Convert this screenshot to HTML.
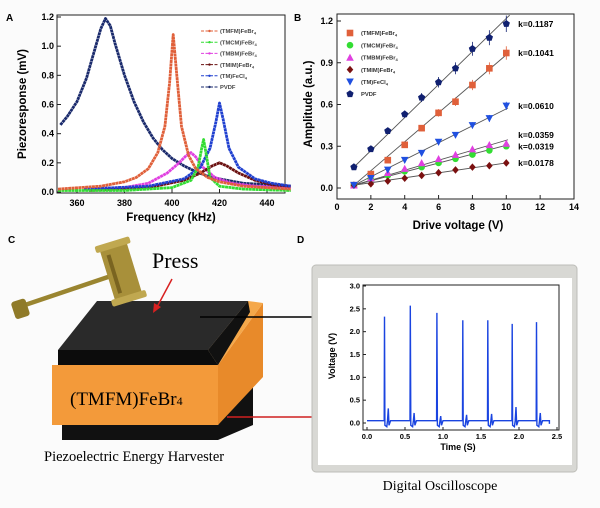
<!DOCTYPE html>
<html><head><meta charset="utf-8"><style>
html,body{margin:0;padding:0;background:#fff;}
svg{display:block;font-family:"Liberation Sans",sans-serif;}
.serif{font-family:"Liberation Serif",serif;}
</style></head><body>
<svg id="fig" width="600" height="508" viewBox="0 0 600 508" xmlns="http://www.w3.org/2000/svg">
<rect x="0" y="0" width="600" height="508" fill="#fbfbfb"/>
<text x="6" y="21" font-size="10" font-weight="bold">A</text>
<text x="294" y="21" font-size="10" font-weight="bold">B</text>
<text x="8" y="243" font-size="10" font-weight="bold">C</text>
<text x="297" y="243" font-size="10" font-weight="bold">D</text>

<g id="panelA"></g>
<g id="panelB"></g>

<!-- Panel C illustration -->
<g>
  <polygon points="62,425 218,425 253,377 253,425 218,440 62,440" fill="#111"/>
  <polygon points="218,365 263,303 263,377 218,425" fill="#e88a2a"/>
  <rect x="52" y="365" width="166" height="60" fill="#f39a3a"/>
  <polygon points="248,301 263,303 218,365 208,350" fill="#f5a84a"/>
  <polygon points="97,301 248,301 208,350 58,350" fill="#2a2a2a"/>
  <polygon points="58,350 208,350 218,365 58,365" fill="#0c0c0c"/>
  <polygon points="208,350 248,301 250,312 218,365" fill="#111"/>
  <line x1="200" y1="317" x2="313" y2="317" stroke="#000" stroke-width="1.5"/>
  <line x1="227" y1="417" x2="313" y2="417" stroke="#d02020" stroke-width="1.5"/>
  <text x="70" y="405" class="serif" font-size="19">(TMFM)FeBr<tspan font-size="12">4</tspan></text>
  <text x="152" y="268" class="serif" font-size="22">Press</text>
  <line x1="172" y1="279" x2="157" y2="307" stroke="#d82020" stroke-width="1.5"/>
  <polygon points="153,313 154,303 161,307" fill="#d82020"/>
  <text x="44" y="461" class="serif" font-size="14.5">Piezoelectric Energy Harvester</text>
  <g>
    <line x1="22" y1="306" x2="108" y2="277" stroke="#9a8530" stroke-width="4.5" stroke-linecap="round"/>
    <rect x="13" y="300" width="15" height="18" rx="3" fill="#8f7a28" transform="rotate(-18 20 309)"/>
    <g transform="rotate(-17 121 272)">
      <rect x="107" y="242" width="28" height="60" rx="3" fill="#a8903a"/>
      <rect x="103" y="240" width="36" height="7" rx="2" fill="#c0a850"/>
      <rect x="103" y="296" width="36" height="7" rx="2" fill="#c0a850"/>
      <rect x="112" y="252" width="4" height="40" fill="#7a6420"/>
    </g>
  </g>
</g>

<!-- Panel D frame -->
<g>
  <rect x="312" y="265" width="265" height="207" rx="4" fill="#d8d8d4" stroke="#bdbdb8"/>
  <rect x="318" y="278" width="254" height="187" fill="#fff"/>
  <text x="440" y="490" class="serif" font-size="14" text-anchor="middle">Digital Oscilloscope</text>
</g>
<g id="panelD"></g>
</svg>
<script>
// ---------- Panel A data ----------
const seriesNamesA = ["(TMFM)FeBr","(TMCM)FeBr","(TMBM)FeBr","(TMIM)FeBr","(TM)FeCl","PVDF"];
const colorsA = ["#e0603a","#33dd33","#e040e0","#6a1010","#2040d0","#1a2a6c"];
const xTicksA = [360,380,400,420,440];
const yTicksA = [0.0,0.2,0.4,0.6,0.8,1.0,1.2];
const tmfmX = [352,370,380,385,390,394,397,399,400.5,402,404,407,410,415,420,430,450];
const tmfmY = [0.02,0.04,0.07,0.1,0.16,0.27,0.45,0.75,1.08,0.8,0.45,0.25,0.16,0.1,0.07,0.04,0.02];
const tmcmX = [352,380,400,408,411,412.5,413.3,414.2,416,420,430,450];
const tmcmY = [0.01,0.01,0.03,0.08,0.17,0.3,0.36,0.28,0.1,0.04,0.02,0.01];
const tmbmX = [363,380,390,398,403,406,408,410,413,418,425,435,450];
const tmbmY = [0.02,0.03,0.06,0.13,0.2,0.25,0.27,0.24,0.17,0.1,0.06,0.04,0.03];
const tmimX = [365,390,405,412,417,420,423,428,435,442,450];
const tmimY = [0.01,0.03,0.08,0.13,0.18,0.2,0.18,0.13,0.08,0.05,0.04];
const fecl4X = [363,390,405,412,416,418.5,420,421.5,424,428,435,442,450];
const fecl4Y = [0.02,0.04,0.09,0.17,0.3,0.48,0.61,0.5,0.3,0.17,0.09,0.06,0.04];
const pvdfX = [353,356,360,364,367,370,372,374,376,380,384,388,392,396,400,405,410,415,420,430,440,450];
const pvdfY = [0.46,0.52,0.62,0.78,0.95,1.12,1.19,1.14,1.02,0.8,0.62,0.48,0.37,0.29,0.23,0.18,0.14,0.11,0.09,0.06,0.05,0.04];

// ---------- Panel B data ----------
const voltsB = [1,2,3,4,5,6,7,8,9,10];
const xTicksB = [0,2,4,6,8,10,12,14];
const yTicksB = [0.0,0.3,0.6,0.9,1.2];
const ampTMFM = [0.02,0.1,0.2,0.31,0.43,0.54,0.62,0.74,0.86,0.97];
const ampTMCM = [0.02,0.06,0.09,0.12,0.15,0.18,0.21,0.24,0.27,0.3];
const ampTMBM = [0.02,0.07,0.11,0.14,0.18,0.21,0.24,0.28,0.31,0.32];
const ampTMIM = [0.02,0.03,0.05,0.07,0.09,0.11,0.13,0.15,0.16,0.18];
const ampFeCl = [0.02,0.07,0.13,0.2,0.25,0.33,0.38,0.45,0.5,0.59];
const ampPVDF = [0.15,0.28,0.41,0.53,0.65,0.76,0.86,1.0,1.08,1.18];
const slopesB = [0.1187,0.1041,0.0610,0.0359,0.0319,0.0178];
const interceptsB = [0.15,0.02,0.02,0.02,0.02,0.02];
const slopeLabelsB = ["k=0.1187","k=0.1041","k=0.0610","k=0.0359","k=0.0319","k=0.0178"];
const slopeLabelYB = [1.18,0.97,0.59,0.38,0.30,0.18];

// ---------- Panel D data ----------
const xTicksD = [0.0,0.5,1.0,1.5,2.0,2.5];
const yTicksD = [0.0,0.5,1.0,1.5,2.0,2.5,3.0];
const pulseTimes = [0.23,0.57,0.92,1.26,1.59,1.91,2.23];
const pulseHeights = [2.33,2.57,2.41,2.25,2.25,2.17,2.21];
const ringHeights = [0.32,0.22,0.15,0.18,0.2,0.35,0.22];
const baseLevel = 0.05;

const NS="http://www.w3.org/2000/svg";
function mk(parent,tag,attrs){const e=document.createElementNS(NS,tag);for(const k in attrs)e.setAttribute(k,attrs[k]);parent.appendChild(e);return e;}
function txt(parent,x,y,s,size,anchor,extra){const t=mk(parent,"text",Object.assign({x:x,y:y,"font-size":size,"text-anchor":anchor||"middle","font-weight":"bold"},extra||{}));t.textContent=s;return t;}

// ===== Panel A =====
(function(){
  const g=document.getElementById("panelA");
  const sx=v=>77+(v-360)*2.375, sy=v=>192-v*(175/1.2);
  const L=57,R=285,T=15,B=193;
  mk(g,"rect",{x:L,y:T,width:R-L,height:B-T,fill:"#fff",stroke:"#222","stroke-width":1});
  xTicksA.forEach(v=>{const l=mk(g,"line",{x1:sx(v),x2:sx(v),y1:B,y2:B-4,stroke:"#222"});
    const t=txt(g,sx(v),206,String(v),9);});
  yTicksA.forEach(v=>{const l=mk(g,"line",{x1:L,x2:L+4,y1:sy(v),y2:sy(v),stroke:"#222"});
    const t=txt(g,L-3,sy(v)+3,v.toFixed(1),9,"end");});
  const xt=txt(g,171,221,"Frequency (kHz)",11.5);
  const yt=txt(g,0,0,"Piezoresponse (mV)",11.5,"middle",{transform:"translate(26,104) rotate(-90)"});
  const xs=[tmfmX,tmcmX,tmbmX,tmimX,fecl4X,pvdfX], ys=[tmfmY,tmcmY,tmbmY,tmimY,fecl4Y,pvdfY];
  const order=[5,2,3,4,1,0];
  order.forEach(i=>{
    const pts=xs[i].map((x,j)=>sx(x).toFixed(1)+","+sy(ys[i][j]).toFixed(1)).join(" ");
    const p=mk(g,"polyline",{points:pts,fill:"none",stroke:colorsA[i],"stroke-width":2.8,"stroke-linejoin":"round","stroke-dasharray":"3 0.4"});
    
    
  });
  seriesNamesA.forEach((n,i)=>{
    const y=31+i*11.2;
    const l=mk(g,"line",{x1:201,x2:218,y1:y,y2:y,stroke:colorsA[i],"stroke-dasharray":"3 1.5","stroke-width":1});
    
    mk(g,"circle",{cx:209.5,cy:y,r:1.2,fill:colorsA[i]});
    const t=txt(g,220,y+2.2,n,5.8,"start",{fill:"#444"});
    if(i<5){const s=mk(t,"tspan",{"font-size":4,dy:1.5});s.textContent="4";}
    
  });
})();

// ===== Panel B =====
(function(){
  const g=document.getElementById("panelB");
  const sx=v=>337+v*(237/14), sy=v=>188-v*(167/1.2);
  const L=337,R=574,T=14,B=199;
  mk(g,"rect",{x:L,y:T,width:R-L,height:B-T,fill:"#fff",stroke:"#222","stroke-width":1});
  xTicksB.forEach(v=>{const l=mk(g,"line",{x1:sx(v),x2:sx(v),y1:B,y2:B-4,stroke:"#222"});
    const t=txt(g,sx(v),210,String(v),9);});
  yTicksB.forEach(v=>{const l=mk(g,"line",{x1:L,x2:L+4,y1:sy(v),y2:sy(v),stroke:"#222"});
    const t=txt(g,L-4,sy(v)+3,v.toFixed(1),9,"end");});
  const xt=txt(g,458,229,"Drive voltage (V)",11.5);
  const yt=txt(g,0,0,"Amplitude (a.u.)",11.5,"middle",{transform:"translate(312,104) rotate(-90)"});
  slopesB.forEach((k,i)=>{
    const x2=i===0?10.2:10.1;
    const l=mk(g,"line",{x1:sx(1),y1:sy(interceptsB[i]),x2:sx(x2),y2:sy(interceptsB[i]+k*(x2-1)),stroke:"#555","stroke-width":0.9});
    
    const t=txt(g,sx(10.7),sy(slopeLabelYB[i])+3,slopeLabelsB[i],8.5,"start");
    
  });
  const names=["(TMFM)FeBr","(TMCM)FeBr","(TMBM)FeBr","(TMIM)FeBr","(TM)FeCl","PVDF"];
  const cols=["#e0603a","#33dd33","#e040e0","#7a1010","#2050e0","#102070"];
  const shapes=["sq","ci","tu","di","td","pe"];
  const data=[ampTMFM,ampTMCM,ampTMBM,ampTMIM,ampFeCl,ampPVDF];
  function marker(x,y,s,c){
    const r=3.3;
    if(s==="sq")return mk(g,"rect",{x:x-r,y:y-r,width:2*r,height:2*r,fill:c});
    if(s==="ci")return mk(g,"circle",{cx:x,cy:y,r:r,fill:c});
    if(s==="tu")return mk(g,"polygon",{points:`${x},${y-r-0.5} ${x+r+0.5},${y+r} ${x-r-0.5},${y+r}`,fill:c});
    if(s==="td")return mk(g,"polygon",{points:`${x},${y+r+0.5} ${x+r+0.5},${y-r} ${x-r-0.5},${y-r}`,fill:c});
    if(s==="di")return mk(g,"polygon",{points:`${x},${y-r-0.5} ${x+r},${y} ${x},${y+r+0.5} ${x-r},${y}`,fill:c});
    let p=[];for(let a=0;a<5;a++){const an=-Math.PI/2+a*2*Math.PI/5;p.push((x+3.8*Math.cos(an)).toFixed(1)+","+(y+3.8*Math.sin(an)).toFixed(1));}
    return mk(g,"polygon",{points:p.join(" "),fill:c});
  }
  data.forEach((arr,i)=>{
    arr.forEach((v,j)=>{
      const x=sx(voltsB[j]),y=sy(v),e=Math.max(2,v*0.05*139);
      const b=mk(g,"line",{x1:x,x2:x,y1:y-e,y2:y+e,stroke:cols[i],"stroke-width":0.8});
      
      const m=marker(x,y,shapes[i],cols[i]);
      
    });
    const ly=33+i*12.2;
    const lm=marker(350,ly,shapes[i],cols[i]);
    
    const t=txt(g,361,ly+2.2,names[i],5.8,"start",{fill:"#333"});
    if(i<5){const s=mk(t,"tspan",{"font-size":4,dy:1.5});s.textContent="4";}
    
  });
})();

// ===== Panel D =====
(function(){
  const g=document.getElementById("panelD");
  const sx=v=>367+v*76, sy=v=>423-v*(137/3);
  const L=363,R=559,T=285,B=430;
  mk(g,"rect",{x:L,y:T,width:R-L,height:B-T,fill:"#fff",stroke:"#222","stroke-width":1});
  xTicksD.forEach(v=>{const l=mk(g,"line",{x1:sx(v),x2:sx(v),y1:B,y2:B-3,stroke:"#222"});
    const t=txt(g,sx(v),439,v.toFixed(1),7.5);});
  yTicksD.forEach(v=>{const l=mk(g,"line",{x1:L,x2:L+3,y1:sy(v),y2:sy(v),stroke:"#222"});
    const t=txt(g,L-3,sy(v)+2.5,v.toFixed(1),7.5,"end");});
  const xt=txt(g,458,450,"Time (S)",9);
  const yt=txt(g,0,0,"Voltage (V)",9,"middle",{transform:"translate(335,356) rotate(-90)"});
  let pts=[[0,baseLevel]];
  pulseTimes.forEach((t,i)=>{
    pts.push([t-0.004,baseLevel],[t,pulseHeights[i]],[t+0.006,-0.05],[t+0.03,-0.08],[t+0.04,baseLevel],[t+0.05,ringHeights[i]],[t+0.06,-0.05],[t+0.08,baseLevel]);
  });
  pts.push([2.4,baseLevel],[2.4,-0.02]);
  const p=mk(g,"polyline",{points:pts.map(q=>sx(q[0]).toFixed(1)+","+sy(q[1]).toFixed(1)).join(" "),fill:"none",stroke:"#1a44e0","stroke-width":1.4});
  
})();
</script>
</body></html>
